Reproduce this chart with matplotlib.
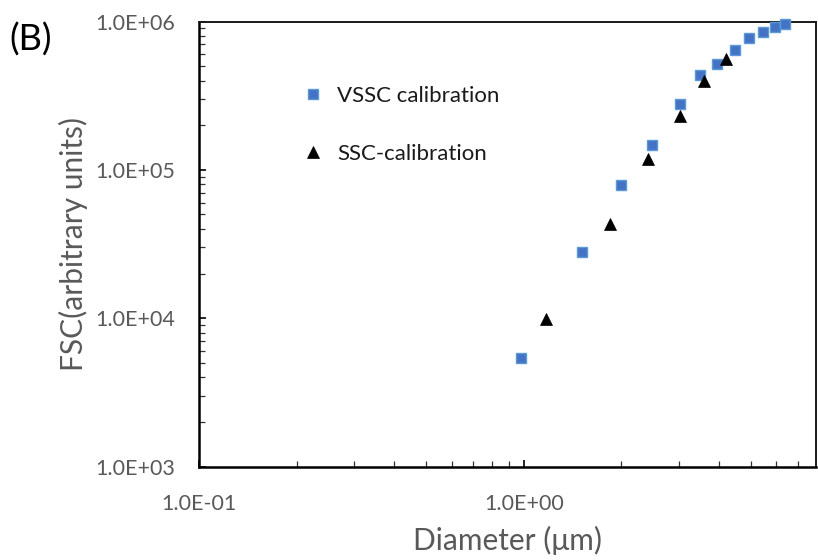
import matplotlib
matplotlib.use("Agg")
import matplotlib.pyplot as plt
from matplotlib.ticker import FixedLocator, LogLocator, NullFormatter, FuncFormatter

# data
vssc_d = [0.98, 1.51, 1.99, 2.48, 3.02, 3.48, 3.95, 4.49, 4.96, 5.44, 5.96, 6.40]
vssc_fsc = [5360, 27800, 78500, 148000, 280000, 433000, 521000, 647000, 780000, 852000, 921000, 955000]
ssc_d = [1.17, 1.84, 2.41, 3.02, 3.58, 4.21]
ssc_fsc = [9800, 42900, 117500, 230000, 400000, 563000]

series_labels = ["VSSC calibration", "SSC-calibration"]
x_ticks = [0.1, 1.0]
y_ticks = [1e3, 1e4, 1e5, 1e6]

plt.rcParams['font.family'] = ['Lato', 'DejaVu Sans']

W, H = 818, 560
fig = plt.figure(figsize=(W / 100, H / 100), dpi=100)
ax = fig.add_axes([199 / W, 1 - 466.5 / H, (816 - 199) / W, (466.5 - 21.5) / H])

ax.set_xscale('log')
ax.set_yscale('log')
ax.set_xlim(0.1, 7.95)
ax.set_ylim(1e3, 1e6)

ax.plot(vssc_d, vssc_fsc, linestyle='none', marker='s', markersize=7.6,
        markerfacecolor='#4472C4', markeredgecolor='#5B9BD5', markeredgewidth=1.0,
        label=series_labels[0], clip_on=False, zorder=3)
ax.plot(ssc_d, ssc_fsc, linestyle='none', marker='^', markersize=8.5,
        markerfacecolor='black', markeredgecolor='black', markeredgewidth=0.5,
        label=series_labels[1], clip_on=False, zorder=4)

fmt = FuncFormatter(lambda v, p: f"{v:.1E}")
ax.xaxis.set_major_locator(FixedLocator(x_ticks))
ax.yaxis.set_major_locator(FixedLocator(y_ticks))
ax.xaxis.set_major_formatter(fmt)
ax.yaxis.set_major_formatter(fmt)
ax.xaxis.set_minor_locator(LogLocator(base=10, subs=range(2, 10), numticks=20))
ax.yaxis.set_minor_locator(LogLocator(base=10, subs=range(2, 10), numticks=20))
ax.xaxis.set_minor_formatter(NullFormatter())
ax.yaxis.set_minor_formatter(NullFormatter())

ax.tick_params(axis='both', which='major', direction='in', length=5, width=1.2,
               color='black', labelsize=15.5, labelcolor='#595959')
ax.tick_params(axis='both', which='minor', direction='in', length=4, width=0.9, color='#333333')
ax.tick_params(axis='x', which='major', pad=19.5)
ax.tick_params(axis='y', which='major', pad=17.5)

for s in ['left', 'bottom']:
    ax.spines[s].set_linewidth(1.8)
    ax.spines[s].set_color('black')
for s in ['top', 'right']:
    ax.spines[s].set_linewidth(1.4)
    ax.spines[s].set_color('#1a1a1a')

ax.set_xlabel('Diameter (μm)', fontsize=21.5, color='#595959', va='baseline')
ax.xaxis.set_label_coords(0.5, (466.5 - 550) / 445)
ax.set_ylabel('FSC(arbitrary units)', fontsize=21.5, color='#595959', va='baseline',
              rotation=90, rotation_mode='anchor', ha='center')
ax.yaxis.set_label_coords((83 - 199) / 617, 0.5)

leg = ax.legend(loc='upper left', bbox_to_anchor=(306 / W, 1 - 86 / H),
                bbox_transform=fig.transFigure, frameon=False, fontsize=16,
                handlelength=0.6, handletextpad=0.8, labelspacing=1.72,
                borderpad=0, borderaxespad=0)
for t in leg.get_texts():
    t.set_color('#1a1a1a')

fig.text(31 / W, 1 - 40 / H, '(B)', fontsize=26, color='black', ha='center', va='center')

fig.savefig('out.png', dpi=100)
